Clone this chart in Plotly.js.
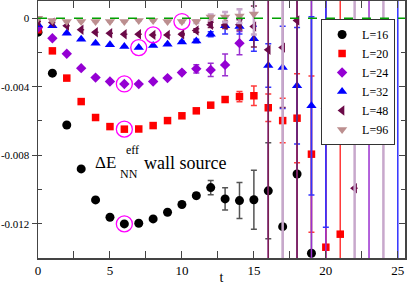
<!DOCTYPE html>
<html><head><meta charset="utf-8">
<script src="https://cdn.plot.ly/plotly-3.0.1.min.js"></script>
<style>html,body{margin:0;padding:0;background:#fff}#chart{width:407px;height:285px}</style>
</head><body><div id="chart"></div>
<script>
const names = ['L=16','L=20','L=24','L=32','L=48','L=96'];

const t16 = [0,1,2,3,4,5,6,7,8,9,10,11,12,13,14,15,16,17,18,19,20];
const v16 = [-0.00082,-0.00321,-0.00624,-0.0088,-0.01061,-0.01162,-0.01201,-0.01197,-0.01172,-0.01133,-0.01088,-0.01036,-0.00989,-0.01055,-0.01065,-0.0106,-0.01008,-0.01217,-0.0091,-0.01372,-0.00123];
const e16 = [0,0,0,0,0,0,0,0,0,0,0.00008,0.00017,0.00042,0.00065,0.00105,0.00172,0.0028,0.05,0.05,0.05,0.05];

const t20 = [0,1,2,3,4,5,6,7,8,9,10,11,12,13,14,15,16,17,18,19,20,21];
const v20 = [-0.00068,-0.00191,-0.0035,-0.00487,-0.0058,-0.00633,-0.00648,-0.00647,-0.00627,-0.00598,-0.0057,-0.00541,-0.00508,-0.00475,-0.00458,-0.00453,-0.00523,-0.00598,-0.00584,-0.00794,-0.01337,-0.01261];
const e20 = [0,0,0,0,0,0,0,0,0,0,0.00005,0.00008,0.0001,0.00015,0.0003,0.00057,0.0008,0.0013,0.0026,0.00456,0.00675,0.05];

const t24 = [0,1,2,3,4,5,6,7,8,9,10,11,12,13,14,16,18,19,20,23];
const v24 = [-0.00055,-0.00117,-0.00208,-0.00292,-0.00347,-0.0037,-0.00384,-0.00385,-0.0037,-0.0035,-0.00318,-0.00296,-0.00302,-0.00273,-0.00146,0.0016,-0.0155,0.0018,-0.016,0.002];
const e24 = [0,0,0,0,0,0,0,0,0,0,0.0001,0.00024,0.00039,0.00064,0.00068,0.05,0.05,0.05,0.05,0.05];

const t32 = [0,1,2,3,4,5,6,7,8,9,10,11,12,13,14,15,16,17,18,19,20,25];
const v32 = [-0.00039,-0.00045,-0.00088,-0.00123,-0.00146,-0.00156,-0.00166,-0.00172,-0.0016,-0.00152,-0.0014,-0.00133,-0.00094,-0.00045,-0.00049,-0.00121,-0.00277,-0.00288,-0.00395,-0.00512,-0.00516,-0.0158];
const e32 = [0,0,0,0,0,0,0,0,0,0,0.00005,0.0001,0.00015,0.00047,0.00044,0.00073,0.00127,0.0024,0.0034,0.0052,0.00704,0.05];

const t48 = [0,1,2,3,4,5,6,7,8,9,10,11,12,13,14,15,16,17,18,22];
const v48 = [-0.0002,-0.00026,-0.00045,-0.00068,-0.00082,-0.00088,-0.00094,-0.00094,-0.00098,-0.00098,-0.00094,-0.00072,-0.00039,-0.0004,-0.00039,-0.00049,-0.00185,-0.00172,-0.00014,-0.00993];
const e48 = [0,0,0,0,0,0,0,0,0,0,0.00005,0.0001,0.00015,0.0002,0.0003,0.0012,0.05,0.0035,0.05,0];

const t96 = [0,1,2,3,4,5,6,7,8,9,10,11,12,13,14,15,17,22,24];
const v96 = [0,-0.00014,-0.0002,-0.0002,-0.0002,-0.0002,-0.0002,-0.00014,-0.00014,-0.0002,-0.0002,-0.0002,0.00006,0.00006,0.00012,0.00024,0.0025,0.0025,0.0025];
const e96 = [0,0,0,0,0,0,0,0,0,0,0.00004,0.00008,0.00015,0.0003,0.0004,0.0012,0.05,0.05,0.05];

// circled points: [series index, t]
const circled = [[0,6],[1,6],[2,6],[3,7],[4,8],[5,10]];

const yTickVals = [-0.012,-0.008,-0.004,0];
const yTickText = ['-0.012','-0.008','-0.004','0'];
const xTickVals = [0,5,10,15,20,25];

const T = [t16,t20,t24,t32,t48,t96];
const V = [v16,v20,v24,v32,v48,v96];
const E = [e16,e20,e24,e32,e48,e96];
const colors = ['#000000','#ff0000','#9400d3','#0000ff','#6b0a48','#bc8f8f'];
const errColors = ['#555555','#ff3a3a','#9a30d0','#3333ff','#7a2050','#c8a8cc'];
const errThick = [1.5,1.5,1.5,1.5,1.5,2.5];
const symbols = ['circle','square','diamond','triangle-up','triangle-left','triangle-down'];
const sizes = [9,7.5,8,9,9,9];

const serif = 'Liberation Serif, Times New Roman, serif';
const traces = [];
for (let i = 0; i < 6; i++) {
  traces.push({
    type:'scatter', mode:'markers', name:names[i],
    x:T[i], y:V[i],
    marker:{symbol:symbols[i], size:sizes[i], color:colors[i], line:{width:0}},
    error_y:{type:'data', array:E[i], visible:true, color:errColors[i], thickness:errThick[i], width:3},
    hoverinfo:'skip'
  });
}
traces.push({
  type:'scatter', mode:'markers', showlegend:false,
  x:circled.map(c=>c[1]),
  y:circled.map(c=>V[c[0]][T[c[0]].indexOf(c[1])]),
  marker:{symbol:'circle-open', size:16, color:'#ff00ff', line:{width:1.3, color:'#ff00ff'}},
  hoverinfo:'skip'
});
traces.push({type:'scatter', x:[null], y:[null], yaxis:'y2', showlegend:false, hoverinfo:'skip'});

const layout = {
  width:407, height:285,
  margin:{l:38, r:2, t:1, b:27},
  paper_bgcolor:'#fff', plot_bgcolor:'#fff',
  font:{family:serif, size:12, color:'#000'},
  showlegend:true,
  legend:{x:0.973, xanchor:'right', y:0.93, yanchor:'top', bgcolor:'#fff', bordercolor:'#333', borderwidth:1,
          font:{family:serif, size:12}, tracegroupgap:0},
  xaxis:{range:[0,25.5], showgrid:false, zeroline:false, showline:true, linecolor:'#444', linewidth:1.5,
         mirror:'allticks', ticks:'inside', ticklen:7, tickcolor:'#444', tickwidth:1,
         tickvals:xTickVals, tickfont:{family:serif, size:13},
         minor:{dtick:2.5, tick0:0, ticks:'inside', ticklen:4, tickcolor:'#444', tickwidth:1},
         title:{text:'t', font:{family:serif, size:14}, standoff:4}},
  yaxis:{range:[-0.014,0.001], showgrid:false, zeroline:false, showline:true, linecolor:'#444', linewidth:1.5,
         ticks:'outside', ticklen:5, tickcolor:'#444', tickwidth:1,
         tickvals:yTickVals, ticktext:yTickText, tickfont:{family:serif, size:11},
         minor:{dtick:0.002, tick0:0, ticks:'inside', ticklen:4, tickcolor:'#444', tickwidth:1}},
  yaxis2:{overlaying:'y', side:'right', range:[-0.014,0.001], showgrid:false, zeroline:false, showline:true,
          linecolor:'#444', linewidth:1.5, ticks:'inside', ticklen:6, tickcolor:'#444', tickwidth:1,
          tickvals:yTickVals, showticklabels:false,
          minor:{dtick:0.002, tick0:0, ticks:'inside', ticklen:4, tickcolor:'#444', tickwidth:1}},
  shapes:[{type:'line', xref:'paper', x0:0, x1:1, yref:'y', y0:0, y1:0, line:{color:'#00a000', width:1.5, dash:'dash'}}],
  annotations:[
    {text:'ΔE', x:3.8, y:-0.00845, xref:'x', yref:'y', xanchor:'left', yanchor:'middle', showarrow:false, font:{family:serif, size:17}},
    {text:'eff', x:5.95, y:-0.0077, xref:'x', yref:'y', xanchor:'left', yanchor:'middle', showarrow:false, font:{family:serif, size:12}},
    {text:'NN', x:5.55, y:-0.00912, xref:'x', yref:'y', xanchor:'left', yanchor:'middle', showarrow:false, font:{family:serif, size:12}},
    {text:'wall source', x:7.2, y:-0.00845, xref:'x', yref:'y', xanchor:'left', yanchor:'middle', showarrow:false, font:{family:serif, size:18}}
  ]
};
Plotly.newPlot('chart', traces, layout, {displayModeBar:false, staticPlot:true});
</script></body></html>
